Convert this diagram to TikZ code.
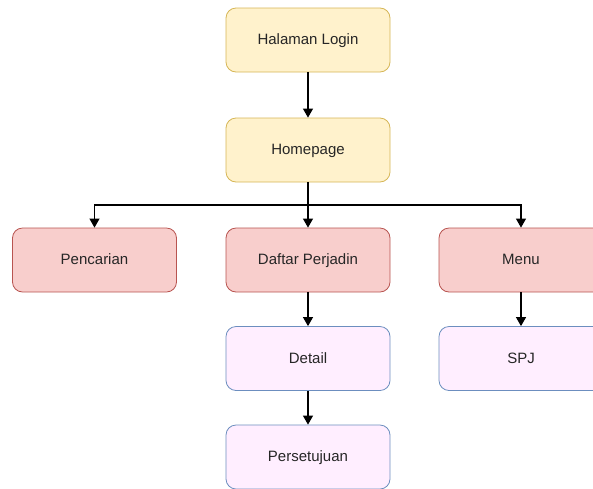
\documentclass[tikz,border=0pt]{standalone}
\usepackage{fontspec}
\setmainfont{Liberation Sans}
\usetikzlibrary{arrows.meta}
\definecolor{yfill}{HTML}{FFF2CC}
\definecolor{ydraw}{HTML}{D6B656}
\definecolor{rfill}{HTML}{F8CECC}
\definecolor{rdraw}{HTML}{B85450}
\definecolor{pfill}{HTML}{FFEEFF}
\definecolor{pdraw}{HTML}{6C8EBF}
\begin{document}
\begin{tikzpicture}[x=1pt,y=-1pt,
    box/.style={rectangle,rounded corners=10pt,minimum width=164pt,minimum height=64pt,
                line width=0.8pt,font=\fontsize{15}{17}\selectfont,text=black!85,
                text height=2ex,text depth=0.2ex},
    pagebox/.style={box,draw=ydraw,fill=yfill},
    menubox/.style={box,draw=rdraw,fill=rfill},
    subbox/.style={box,draw=pdraw,fill=pfill},
    link/.style={-{Triangle[length=9pt,width=10pt]},line width=1.1pt}]
    \useasboundingbox (0,0) rectangle (593,488);
    \clip (0,0) rectangle (593,488);

    \node[pagebox] (login) at (308,40) {Halaman Login};
    \node[pagebox] (home) at (308,150) {Homepage};

    \node[menubox] (cari) at (94.5,260) {Pencarian};
    \node[menubox] (daftar) at (308,260) {Daftar Perjadin};
    \node[menubox] (menu) at (521,260) {Menu};

    \node[subbox] (detail) at (308,358.5) {Detail};
    \node[subbox] (spj) at (521,358.5) {SPJ};
    \node[subbox] (setuju) at (308,457) {Persetujuan};

    \coordinate (split) at (308,205);

    \draw[link] (login) -- (home);
    \draw[link] (home) -- (daftar);
    \draw[link] (split) -| (cari);
    \draw[link] (split) -| (menu);
    \draw[link] (daftar) -- (detail);
    \draw[link] (menu) -- (spj);
    \draw[link] (detail) -- (setuju);
\end{tikzpicture}
\end{document}
